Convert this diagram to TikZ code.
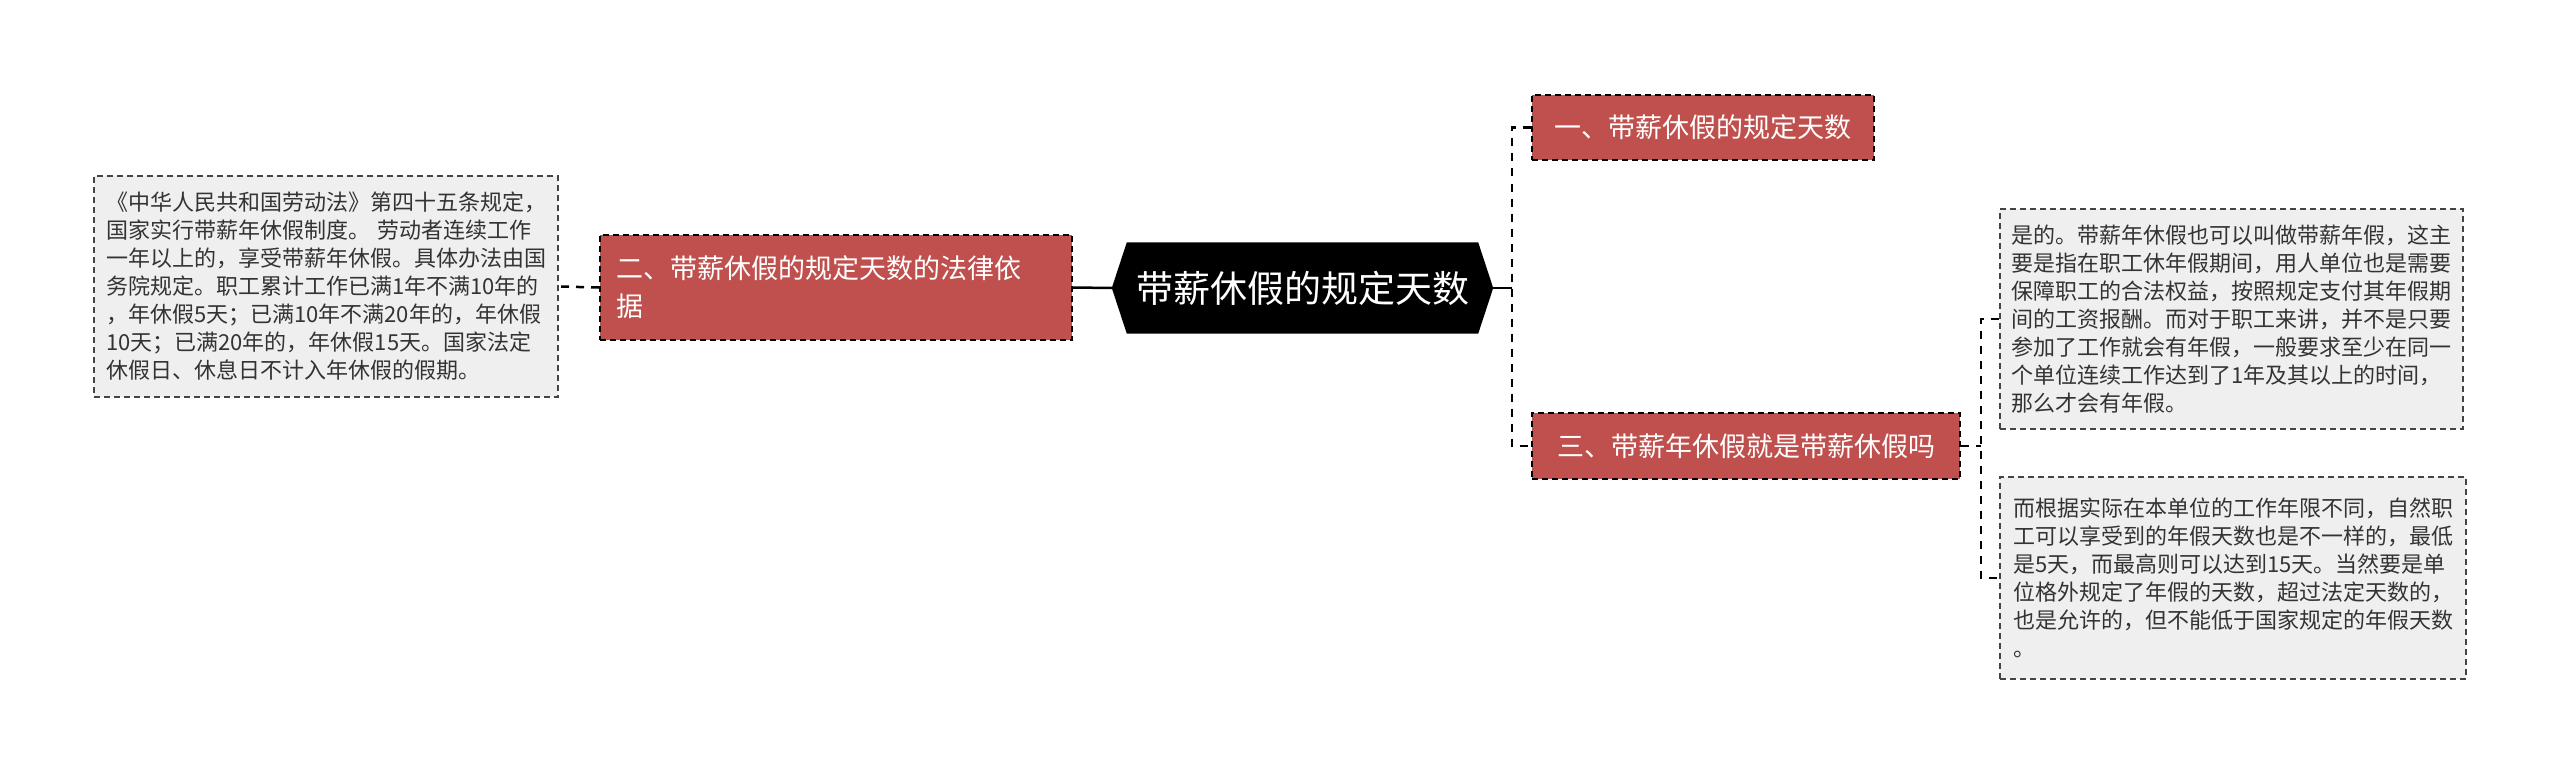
\documentclass[tikz,border=0pt]{standalone}
\usepackage{fontspec}
\newfontfamily\cjk{Noto Sans CJK SC}
\definecolor{redbox}{HTML}{C0504D}
\definecolor{graybox}{HTML}{EFEFEF}
\definecolor{graytext}{HTML}{333333}
\definecolor{grayline}{HTML}{444444}
\tikzset{
  redstyle/.style={rectangle, fill=redbox, draw=black, line width=2pt, dash pattern=on 6pt off 4pt, text=white, inner sep=0pt, font=\cjk\fontsize{27}{38}\selectfont},
  graystyle/.style={rectangle, fill=graybox, draw=grayline, line width=2pt, dash pattern=on 6pt off 4pt, text=graytext, inner sep=0pt, align=left, text width=440pt, font=\cjk\fontsize{22}{28}\selectfont},
  conn/.style={draw=black, line width=2.5pt},
  dconn/.style={draw=black, line width=2.5pt, dash pattern=on 8pt off 7pt}
}
\begin{document}
\begin{tikzpicture}[x=1pt,y=-1pt]
\useasboundingbox[fill=white] (0,0) rectangle (2560,765);
% central hexagon
\node[rectangle, minimum width=381pt, minimum height=91pt, inner sep=0pt] (hex) at (1302.5,288) {};
\fill[black] (hex.west) -- ([xshift=15pt]hex.north west) -- ([xshift=-15pt]hex.north east) -- (hex.east) -- ([xshift=-15pt]hex.south east) -- ([xshift=15pt]hex.south west) -- cycle;
\node[text=white, font=\cjk\fontsize{37}{44}\selectfont, inner sep=0pt] (hextext) at (hex.center) {带薪休假的规定天数};
% red boxes
\node[redstyle, minimum width=342pt, minimum height=65pt] (r1) at (1703,127.5) {一、带薪休假的规定天数};
\node[redstyle, minimum width=428pt, minimum height=66pt] (r3) at (1746,446) {三、带薪年休假就是带薪休假吗};
\node[redstyle, minimum width=472pt, minimum height=105pt, text width=440pt, align=left] (r2) at (836,287.5) {二、带薪休假的规定天数的法律依\\据};
% gray boxes
\node[graystyle, minimum width=464pt, minimum height=221pt] (lt) at (326,286.5) {《中华人民共和国劳动法》第四十五条规定，\\国家实行带薪年休假制度。 劳动者连续工作\\一年以上的，享受带薪年休假。具体办法由国\\务院规定。职工累计工作已满1年不满10年的\\，年休假5天；已满10年不满20年的，年休假\\10天；已满20年的，年休假15天。国家法定\\休假日、休息日不计入年休假的假期。};
\node[graystyle, minimum width=463pt, minimum height=220pt] (t1) at (2231.5,319) {是的。带薪年休假也可以叫做带薪年假，这主\\要是指在职工休年假期间，用人单位也是需要\\保障职工的合法权益，按照规定支付其年假期\\间的工资报酬。而对于职工来讲，并不是只要\\参加了工作就会有年假，一般要求至少在同一\\个单位连续工作达到了1年及其以上的时间，\\那么才会有年假。};
\node[graystyle, minimum width=466pt, minimum height=202pt] (t2) at (2233,578) {而根据实际在本单位的工作年限不同，自然职\\工可以享受到的年假天数也是不一样的，最低\\是5天，而最高则可以达到15天。当然要是单\\位格外规定了年假的天数，超过法定天数的，\\也是允许的，但不能低于国家规定的年假天数\\。};
% junctions
\coordinate (jR) at (1512,288);
\coordinate (jT) at (1981,446);
% connectors
\draw[conn] (hex.east) -- (jR);
\draw[dconn] (r1.west) -- (r1.west -| jR) -- (r3.west -| jR) -- (r3.west);
\draw[conn] (hex.west) -- (r2.east);
\draw[dconn] (r2.west) -- (lt.east);
\draw[dconn] (r3.east) -- (jT);
\draw[dconn] (t1.west) -- (t1.west -| jT) -- (t2.west -| jT) -- (t2.west);
\end{tikzpicture}
\end{document}
